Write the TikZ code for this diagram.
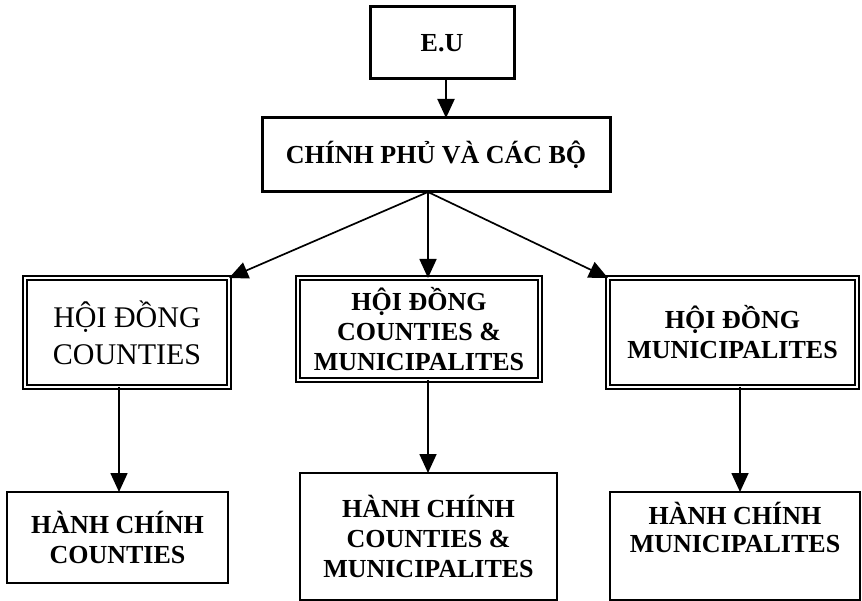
\documentclass[tikz,border=0pt]{standalone}
\usepackage{fontspec}
\setmainfont{Liberation Serif}
\usetikzlibrary{arrows.meta}
\begin{document}
\begin{tikzpicture}[x=1pt,y=-1pt,
    every node/.style={outer sep=0pt, inner sep=0pt, align=center},
    boldtxt/.style={font=\fontsize{26}{30}\selectfont\bfseries},
    topbox/.style={draw, line width=3pt, boldtxt},
    dblbox/.style={draw, line width=1.8pt, double=white, double distance=2.2pt},
    lowbox/.style={draw, line width=1.8pt, boldtxt},
    arr/.style={line width=1.7pt, -{Triangle[length=19pt,width=17pt]}}]
  \useasboundingbox (0,0) rectangle (862,601);
  % top levels
  \node[topbox, minimum width=144, minimum height=72] (eu) at (442,43) {E.U};
  \node[topbox, minimum width=348, minimum height=74] (gov) at (436,155) {CHÍNH PHỦ VÀ CÁC BỘ};
  % councils
  \node[dblbox, minimum width=204, minimum height=109, font=\fontsize{30}{37}\selectfont] (hdc) at (127,332.5) {HỘI ĐỒNG\\COUNTIES};
  \node[dblbox, boldtxt, minimum width=242, minimum height=102] (hdcm) at (419,329) {HỘI ĐỒNG\\COUNTIES \&\\MUNICIPALITES};
  \node[dblbox, boldtxt, minimum width=249, minimum height=109] (hdm) at (732.5,332.5) {HỘI ĐỒNG\\MUNICIPALITES};
  % administrations
  \node[lowbox, minimum width=221, minimum height=91] (hcc) at (117.5,537.5) {HÀNH CHÍNH\\COUNTIES};
  \node[lowbox, minimum width=257, minimum height=127] (hccm) at (428.5,536.5) {HÀNH CHÍNH\\COUNTIES \&\\MUNICIPALITES};
  \node[lowbox, minimum width=250, minimum height=108] (hcm) at (735,546) {};
  \node[font=\fontsize{26}{28}\selectfont\bfseries] (hcmtxt) at (735,527) {HÀNH CHÍNH\\MUNICIPALITES};
  % connectors
  \coordinate (src) at ([xshift=-8pt]gov.south);
  \draw[arr, line width=2pt] ([xshift=4pt]eu.south) -- ([xshift=4pt]eu.south |- gov.north);
  \draw[arr] (src) -- (hdc.north east);
  \draw[arr] (src) -- (src |- hdcm.north);
  \draw[arr] (src) -- (hdm.north west);
  \draw[arr] ([xshift=1.5pt]hcc.north |- hdc.south) -- ([xshift=1.5pt]hcc.north);
  \draw[arr] ([xshift=-0.5pt]hccm.north |- hdcm.south) -- ([xshift=-0.5pt]hccm.north);
  \draw[arr] ([xshift=5pt]hcm.north |- hdm.south) -- ([xshift=5pt]hcm.north);
\end{tikzpicture}
\end{document}
